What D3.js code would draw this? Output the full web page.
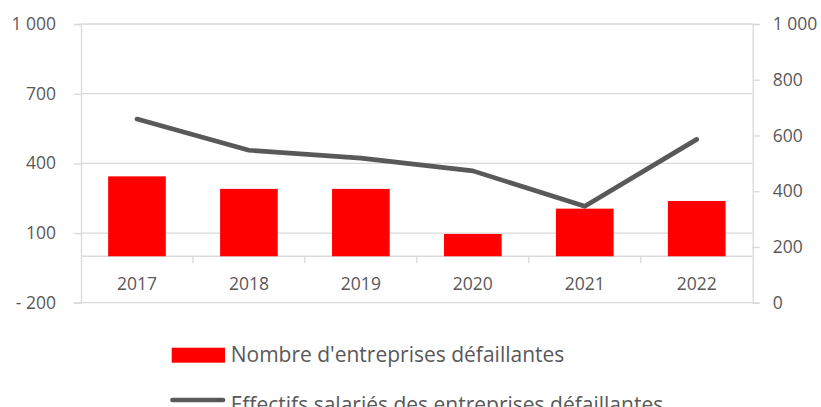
<!DOCTYPE html>
<html>
<head>
<meta charset="utf-8">
<script src="https://cdn.jsdelivr.net/npm/d3@7"></script>
<style>
  html, body { margin: 0; padding: 0; background: #fff; }
  #chart { width: 821px; height: 407px; overflow: hidden; }
  .d3-chart text { font-family: "Open Sans", sans-serif; fill: #595959; }
</style>
</head>
<body>
<div id="chart"></div>
<script>
// Data
const years = ['2017', '2018', '2019', '2020', '2021', '2022'];
const nbEntreprises = [344, 290, 290, 96, 205, 238];
const effectifs = [659, 547, 519, 473, 346, 586];
const leftTicks = [-200, 100, 400, 700, 1000];
const rightTicks = [0, 200, 400, 600, 800, 1000];
const seriesNames = ["Nombre d'entreprises défaillantes", 'Effectifs salariés des entreprises défaillantes'];

const width = 821, height = 407;
const margin = { top: 24, right: 68.3, bottom: 104.3, left: 81 };
const innerWidth = width - margin.left - margin.right;
const innerHeight = height - margin.top - margin.bottom;

const grid = '#d9d9d9';
const red = '#ff0000';
const lineColor = '#595959';

const locale = d3.formatLocale({ decimal: ',', thousands: ' ', grouping: [3], currency: ['', ''] });
const fmt = locale.format(',');
const fmtTick = d => d < 0 ? '- ' + fmt(-d) : fmt(d);

const svg = d3.select('#chart')
    .append('svg')
    .attr('width', width)
    .attr('height', height)
    .attr('class', 'd3-chart');

const g = svg.append('g')
    .attr('transform', `translate(${margin.left},${margin.top})`);

// Scales
const xScale = d3.scaleBand()
    .domain(years)
    .range([0, innerWidth])
    .paddingInner(0.485)
    .paddingOuter(0.2425);

const yLeft = d3.scaleLinear()
    .domain([-200, 1000])
    .range([innerHeight, 0]);

const yRight = d3.scaleLinear()
    .domain([0, 1000])
    .range([innerHeight, 0]);

// Gridlines
g.append('g')
    .selectAll('line')
    .data(leftTicks)
    .enter()
    .append('line')
    .attr('x1', 0)
    .attr('x2', innerWidth)
    .attr('y1', d => yLeft(d))
    .attr('y2', d => yLeft(d))
    .attr('stroke', grid)
    .attr('stroke-width', 1.3);

// Left axis
const leftAxis = g.append('g')
    .call(d3.axisLeft(yLeft).tickValues(leftTicks).tickFormat(fmtTick).tickSize(7).tickPadding(18));
leftAxis.select('.domain').attr('stroke', grid).attr('stroke-width', 1.3);
leftAxis.selectAll('.tick line').attr('stroke', grid).attr('stroke-width', 1.3);
leftAxis.selectAll('text').style('font-size', '17.5px').attr('fill', null);

// Right axis
const rightAxis = g.append('g')
    .attr('transform', `translate(${innerWidth},0)`)
    .call(d3.axisRight(yRight).tickValues(rightTicks).tickFormat(fmtTick).tickSize(7).tickPadding(13));
rightAxis.select('.domain').attr('stroke', grid).attr('stroke-width', 1.3);
rightAxis.selectAll('.tick line').attr('stroke', grid).attr('stroke-width', 1.3);
rightAxis.selectAll('text').style('font-size', '17.5px').attr('fill', null);

// Category axis at zero
const step = xScale.step();
const catAxis = g.append('g')
    .attr('transform', `translate(0,${yLeft(0)})`);
catAxis.append('line')
    .attr('x1', 0)
    .attr('x2', innerWidth)
    .attr('stroke', grid)
    .attr('stroke-width', 1.3);
catAxis.selectAll('.cat-tick')
    .data(years.slice(1))
    .enter()
    .append('line')
    .attr('class', 'cat-tick')
    .attr('x1', d => xScale(d) - step * xScale.paddingInner() / 2)
    .attr('x2', d => xScale(d) - step * xScale.paddingInner() / 2)
    .attr('y1', 0)
    .attr('y2', 7)
    .attr('stroke', grid)
    .attr('stroke-width', 1.3);
catAxis.selectAll('.cat-label')
    .data(years)
    .enter()
    .append('text')
    .attr('class', 'cat-label')
    .attr('x', d => xScale(d) + xScale.bandwidth() / 2)
    .attr('y', 34)
    .attr('text-anchor', 'middle')
    .style('font-size', '17.5px')
    .text(d => d);

// Bars
g.selectAll('.bar')
    .data(years)
    .enter()
    .append('rect')
    .attr('class', 'bar')
    .attr('x', d => xScale(d))
    .attr('width', xScale.bandwidth())
    .attr('y', (d, i) => yLeft(nbEntreprises[i]))
    .attr('height', (d, i) => yLeft(0) - yLeft(nbEntreprises[i]))
    .attr('fill', red);

// Line
const line = d3.line()
    .x((d, i) => xScale(years[i]) + xScale.bandwidth() / 2)
    .y(d => yRight(d));

g.append('path')
    .datum(effectifs)
    .attr('d', line)
    .attr('fill', 'none')
    .attr('stroke', lineColor)
    .attr('stroke-width', 4.7)
    .attr('stroke-linecap', 'round')
    .attr('stroke-linejoin', 'round');

// Legend
const legend = svg.append('g');
legend.append('rect')
    .attr('x', 171.7)
    .attr('y', 347.7)
    .attr('width', 53.3)
    .attr('height', 15)
    .attr('fill', red);
legend.append('text')
    .attr('x', 230.7)
    .attr('y', 362.3)
    .style('font-size', '21px')
    .text(seriesNames[0]);
legend.append('line')
    .attr('x1', 172.5)
    .attr('x2', 223)
    .attr('y1', 400)
    .attr('y2', 400)
    .attr('stroke', lineColor)
    .attr('stroke-width', 4.7)
    .attr('stroke-linecap', 'round');
legend.append('text')
    .attr('x', 230.7)
    .attr('y', 411.7)
    .style('font-size', '21px')
    .text(seriesNames[1]);
</script>
</body>
</html>
